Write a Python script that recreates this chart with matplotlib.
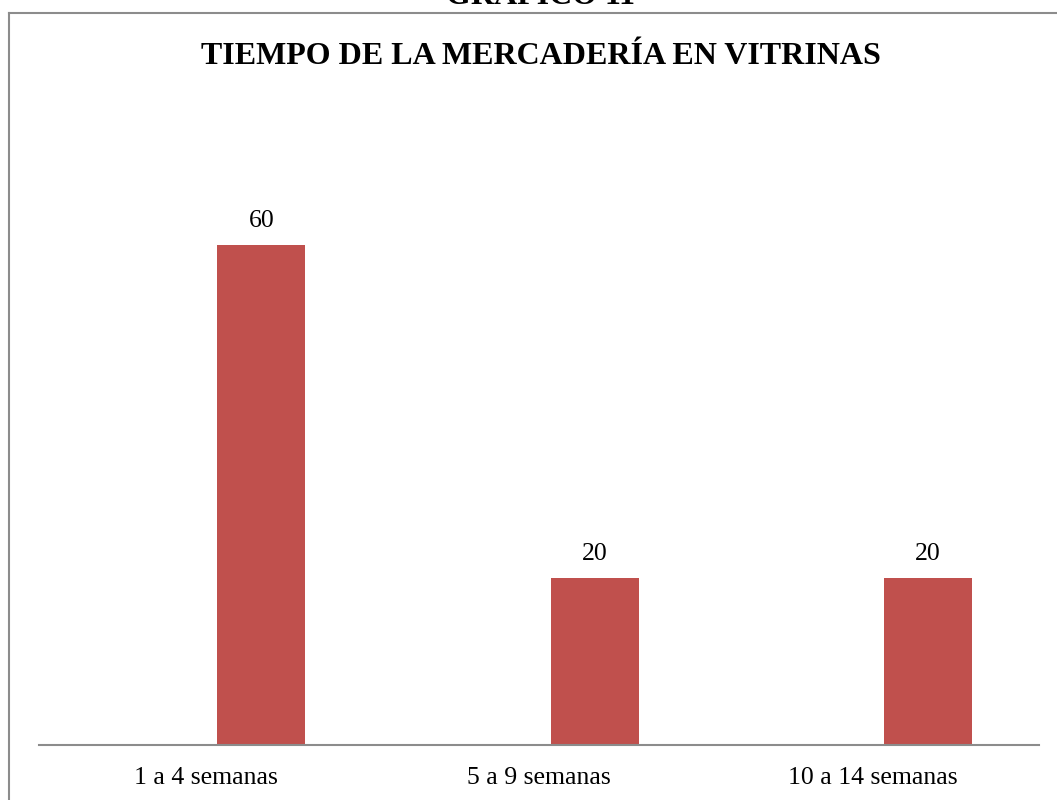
import matplotlib.pyplot as plt
from matplotlib.lines import Line2D

# data
categorias = ["1 a 4 semanas", "5 a 9 semanas", "10 a 14 semanas"]
valores = [60, 20, 20]

plt.rcParams['font.family'] = ['Liberation Serif', 'DejaVu Serif']

W, H = 1057, 800
fig = plt.figure(figsize=(W / 100, H / 100), dpi=100)

# frame of the chart area (left and top edges visible)
fig.add_artist(Line2D([9 / W, 9 / W], [0, 1 - 13 / H], transform=fig.transFigure,
                      color="#8c8c8c", lw=1.5))
fig.add_artist(Line2D([9 / W, 1], [1 - 13 / H, 1 - 13 / H], transform=fig.transFigure,
                      color="#8c8c8c", lw=1.5))

# heading cut off at the top of the picture
fig.text(540 / W, 1 - 4 / H, "GRÁFICO 11", ha="center", va="baseline",
         fontsize=23, fontweight="bold")

fig.text(541 / W, 1 - 57 / H, "TIEMPO DE LA MERCADERÍA EN VITRINAS",
         ha="center", va="center", fontsize=23, fontweight="bold")

left, right = 39 / W, 1039 / W
bottom = 1 - 745 / H
top = 1 - 162 / H
ax = fig.add_axes([left, bottom, right - left, top - bottom])

# bars sit right of the category centre, as in a two-series cluster
x = list(range(len(categorias)))
offset = 0.167
bars = ax.bar([i + offset for i in x], valores, width=0.264, color="#C0504D")
ax.set_xlim(-0.5, len(categorias) - 0.5)
ax.set_ylim(0, 70)

for b, v in zip(bars, valores):
    ax.text(b.get_x() + b.get_width() / 2, v + 1.6, str(v), ha="center",
            va="bottom", fontsize=18.5)

ax.set_xticks(x)
ax.set_xticklabels(categorias, fontsize=18.5)
ax.tick_params(axis="x", length=0, pad=16)
ax.set_yticks([])
for s in ["left", "right", "top"]:
    ax.spines[s].set_visible(False)
ax.spines["bottom"].set_color("#8c8c8c")
ax.spines["bottom"].set_linewidth(1.5)

fig.savefig("out.png", dpi=100)
